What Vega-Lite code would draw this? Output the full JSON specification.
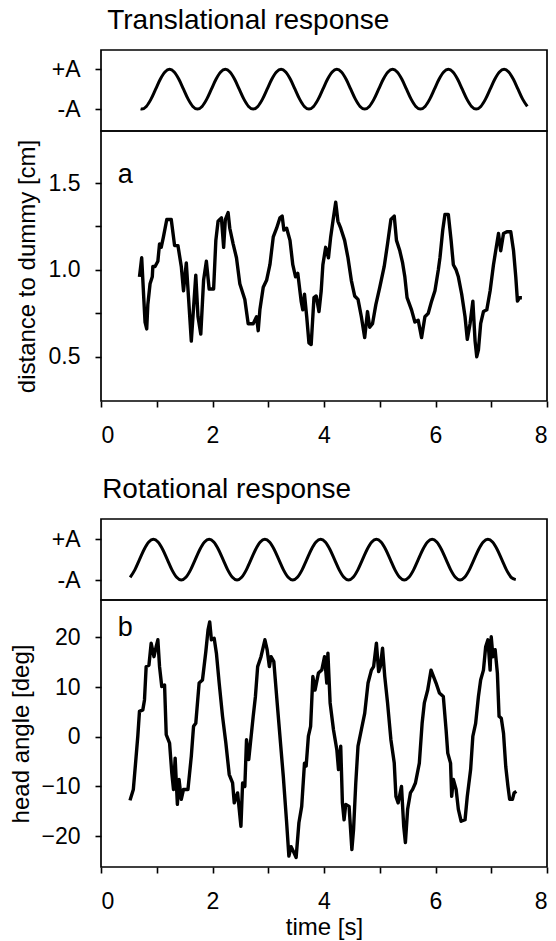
{
  "$schema": "https://vega.github.io/schema/vega-lite/v6.json",
  "background": "white",
  "padding": {"left": 9, "top": 7, "right": 5, "bottom": 0},
  "config": {
    "font": "Liberation Sans",
    "view": {"stroke": "black", "strokeWidth": 1.7},
    "axis": {"grid": false, "domain": false, "tickColor": "black", "tickWidth": 1.6, "tickSize": 6, "labelColor": "black", "labelFont": "Liberation Sans", "labelFontSize": 23, "titleFont": "Liberation Sans", "titleFontSize": 24, "titleFontWeight": "normal", "titleColor": "black"},
    "title": {"font": "Liberation Sans", "fontSize": 28, "fontWeight": "normal", "anchor": "start", "color": "black", "offset": 14}
  },
  "datasets": {
    "stimA": [
      {"t":0.71,"v":-0.99},
      {"t":0.73,"v":-1},{"t":0.813,"v":-0.866},{"t":0.897,"v":-0.5},{"t":0.98,"v":0},{"t":1.063,"v":0.5},{"t":1.147,"v":0.866},{"t":1.23,"v":1},{"t":1.313,"v":0.866},{"t":1.397,"v":0.5},{"t":1.48,"v":0},{"t":1.563,"v":-0.5},{"t":1.647,"v":-0.866},
      {"t":1.73,"v":-1},{"t":1.813,"v":-0.866},{"t":1.897,"v":-0.5},{"t":1.98,"v":0},{"t":2.063,"v":0.5},{"t":2.147,"v":0.866},{"t":2.23,"v":1},{"t":2.313,"v":0.866},{"t":2.397,"v":0.5},{"t":2.48,"v":0},{"t":2.563,"v":-0.5},{"t":2.647,"v":-0.866},
      {"t":2.73,"v":-1},{"t":2.813,"v":-0.866},{"t":2.897,"v":-0.5},{"t":2.98,"v":0},{"t":3.063,"v":0.5},{"t":3.147,"v":0.866},{"t":3.23,"v":1},{"t":3.313,"v":0.866},{"t":3.397,"v":0.5},{"t":3.48,"v":0},{"t":3.563,"v":-0.5},{"t":3.647,"v":-0.866},
      {"t":3.73,"v":-1},{"t":3.813,"v":-0.866},{"t":3.897,"v":-0.5},{"t":3.98,"v":0},{"t":4.063,"v":0.5},{"t":4.147,"v":0.866},{"t":4.23,"v":1},{"t":4.313,"v":0.866},{"t":4.397,"v":0.5},{"t":4.48,"v":0},{"t":4.563,"v":-0.5},{"t":4.647,"v":-0.866},
      {"t":4.73,"v":-1},{"t":4.813,"v":-0.866},{"t":4.897,"v":-0.5},{"t":4.98,"v":0},{"t":5.063,"v":0.5},{"t":5.147,"v":0.866},{"t":5.23,"v":1},{"t":5.313,"v":0.866},{"t":5.397,"v":0.5},{"t":5.48,"v":0},{"t":5.563,"v":-0.5},{"t":5.647,"v":-0.866},
      {"t":5.73,"v":-1},{"t":5.813,"v":-0.866},{"t":5.897,"v":-0.5},{"t":5.98,"v":0},{"t":6.063,"v":0.5},{"t":6.147,"v":0.866},{"t":6.23,"v":1},{"t":6.313,"v":0.866},{"t":6.397,"v":0.5},{"t":6.48,"v":0},{"t":6.563,"v":-0.5},{"t":6.647,"v":-0.866},
      {"t":6.73,"v":-1},{"t":6.813,"v":-0.866},{"t":6.897,"v":-0.5},{"t":6.98,"v":0},{"t":7.063,"v":0.5},{"t":7.147,"v":0.866},{"t":7.23,"v":1},{"t":7.313,"v":0.866},{"t":7.397,"v":0.5},{"t":7.48,"v":0},{"t":7.563,"v":-0.5},{"t":7.647,"v":-0.866}
    ],
    "stimB": [
      {"t":0.523,"v":-0.866},{"t":0.607,"v":-0.5},{"t":0.69,"v":0},{"t":0.773,"v":0.5},{"t":0.857,"v":0.866},{"t":0.94,"v":1},{"t":1.023,"v":0.866},{"t":1.107,"v":0.5},{"t":1.19,"v":0},{"t":1.273,"v":-0.5},{"t":1.357,"v":-0.866},
      {"t":1.44,"v":-1},{"t":1.523,"v":-0.866},{"t":1.607,"v":-0.5},{"t":1.69,"v":0},{"t":1.773,"v":0.5},{"t":1.857,"v":0.866},{"t":1.94,"v":1},{"t":2.023,"v":0.866},{"t":2.107,"v":0.5},{"t":2.19,"v":0},{"t":2.273,"v":-0.5},{"t":2.357,"v":-0.866},
      {"t":2.44,"v":-1},{"t":2.523,"v":-0.866},{"t":2.607,"v":-0.5},{"t":2.69,"v":0},{"t":2.773,"v":0.5},{"t":2.857,"v":0.866},{"t":2.94,"v":1},{"t":3.023,"v":0.866},{"t":3.107,"v":0.5},{"t":3.19,"v":0},{"t":3.273,"v":-0.5},{"t":3.357,"v":-0.866},
      {"t":3.44,"v":-1},{"t":3.523,"v":-0.866},{"t":3.607,"v":-0.5},{"t":3.69,"v":0},{"t":3.773,"v":0.5},{"t":3.857,"v":0.866},{"t":3.94,"v":1},{"t":4.023,"v":0.866},{"t":4.107,"v":0.5},{"t":4.19,"v":0},{"t":4.273,"v":-0.5},{"t":4.357,"v":-0.866},
      {"t":4.44,"v":-1},{"t":4.523,"v":-0.866},{"t":4.607,"v":-0.5},{"t":4.69,"v":0},{"t":4.773,"v":0.5},{"t":4.857,"v":0.866},{"t":4.94,"v":1},{"t":5.023,"v":0.866},{"t":5.107,"v":0.5},{"t":5.19,"v":0},{"t":5.273,"v":-0.5},{"t":5.357,"v":-0.866},
      {"t":5.44,"v":-1},{"t":5.523,"v":-0.866},{"t":5.607,"v":-0.5},{"t":5.69,"v":0},{"t":5.773,"v":0.5},{"t":5.857,"v":0.866},{"t":5.94,"v":1},{"t":6.023,"v":0.866},{"t":6.107,"v":0.5},{"t":6.19,"v":0},{"t":6.273,"v":-0.5},{"t":6.357,"v":-0.866},
      {"t":6.44,"v":-1},{"t":6.523,"v":-0.866},{"t":6.607,"v":-0.5},{"t":6.69,"v":0},{"t":6.773,"v":0.5},{"t":6.857,"v":0.866},{"t":6.94,"v":1},{"t":7.023,"v":0.866},{"t":7.107,"v":0.5},{"t":7.19,"v":0},{"t":7.273,"v":-0.5},{"t":7.357,"v":-0.866},{"t":7.44,"v":-0.98}
    ],
    "respA": [
      {"t":0.69,"v":0.96},{"t":0.73,"v":1.07},{"t":0.77,"v":0.82},{"t":0.79,"v":0.70},{"t":0.82,"v":0.66},{"t":0.84,"v":0.80},{"t":0.88,"v":0.92},{"t":0.92,"v":0.96},{"t":0.93,"v":1.02},{"t":0.97,"v":1.02},{"t":1.02,"v":1.05},{"t":1.05,"v":1.15},{"t":1.08,"v":1.13},{"t":1.12,"v":1.19},{"t":1.18,"v":1.29},{"t":1.26,"v":1.29},{"t":1.32,"v":1.14},{"t":1.38,"v":1.14},{"t":1.44,"v":1.02},{"t":1.48,"v":0.88},{"t":1.53,"v":1.04},{"t":1.57,"v":0.84},{"t":1.62,"v":0.59},{"t":1.70,"v":0.97},{"t":1.74,"v":0.73},{"t":1.79,"v":0.63},{"t":1.84,"v":0.94},{"t":1.89,"v":1.05},{"t":1.94,"v":0.89},{"t":2.02,"v":0.89},{"t":2.06,"v":1.17},{"t":2.10,"v":1.28},{"t":2.16,"v":1.30},{"t":2.20,"v":1.13},{"t":2.23,"v":1.29},{"t":2.28,"v":1.33},{"t":2.31,"v":1.24},{"t":2.37,"v":1.15},{"t":2.43,"v":1.07},{"t":2.49,"v":0.92},{"t":2.58,"v":0.83},{"t":2.64,"v":0.69},{"t":2.73,"v":0.69},{"t":2.79,"v":0.73},{"t":2.82,"v":0.65},{"t":2.85,"v":0.77},{"t":2.91,"v":0.90},{"t":2.97,"v":0.94},{"t":3.03,"v":1.03},{"t":3.09,"v":1.19},{"t":3.15,"v":1.24},{"t":3.21,"v":1.30},{"t":3.25,"v":1.31},{"t":3.28,"v":1.23},{"t":3.33,"v":1.24},{"t":3.39,"v":1.17},{"t":3.44,"v":1.03},{"t":3.49,"v":0.96},{"t":3.53,"v":0.98},{"t":3.59,"v":0.82},{"t":3.62,"v":0.77},{"t":3.65,"v":0.86},{"t":3.69,"v":0.73},{"t":3.73,"v":0.58},{"t":3.77,"v":0.57},{"t":3.82,"v":0.84},{"t":3.86,"v":0.85},{"t":3.91,"v":0.76},{"t":3.95,"v":0.88},{"t":3.98,"v":1.03},{"t":4.03,"v":1.13},{"t":4.08,"v":1.07},{"t":4.12,"v":1.19},{"t":4.16,"v":1.28},{"t":4.21,"v":1.39},{"t":4.25,"v":1.28},{"t":4.30,"v":1.24},{"t":4.37,"v":1.17},{"t":4.43,"v":1.07},{"t":4.49,"v":0.94},{"t":4.55,"v":0.85},{"t":4.61,"v":0.83},{"t":4.67,"v":0.73},{"t":4.73,"v":0.61},{"t":4.78,"v":0.76},{"t":4.82,"v":0.67},{"t":4.87,"v":0.69},{"t":4.93,"v":0.80},{"t":5.00,"v":0.90},{"t":5.08,"v":1.02},{"t":5.14,"v":1.15},{"t":5.20,"v":1.29},{"t":5.26,"v":1.31},{"t":5.30,"v":1.17},{"t":5.36,"v":1.11},{"t":5.41,"v":1.04},{"t":5.45,"v":0.96},{"t":5.49,"v":0.84},{"t":5.57,"v":0.77},{"t":5.63,"v":0.70},{"t":5.69,"v":0.71},{"t":5.75,"v":0.61},{"t":5.81,"v":0.73},{"t":5.87,"v":0.75},{"t":5.93,"v":0.82},{"t":5.99,"v":0.88},{"t":6.05,"v":1.00},{"t":6.08,"v":1.07},{"t":6.13,"v":1.23},{"t":6.17,"v":1.32},{"t":6.23,"v":1.32},{"t":6.28,"v":1.17},{"t":6.32,"v":1.03},{"t":6.37,"v":1.00},{"t":6.41,"v":0.96},{"t":6.47,"v":0.86},{"t":6.53,"v":0.73},{"t":6.57,"v":0.60},{"t":6.62,"v":0.69},{"t":6.67,"v":0.82},{"t":6.71,"v":0.59},{"t":6.74,"v":0.50},{"t":6.77,"v":0.54},{"t":6.81,"v":0.69},{"t":6.86,"v":0.76},{"t":6.92,"v":0.77},{"t":6.98,"v":0.88},{"t":7.04,"v":1.03},{"t":7.09,"v":1.13},{"t":7.13,"v":1.21},{"t":7.17,"v":1.11},{"t":7.22,"v":1.21},{"t":7.28,"v":1.22},{"t":7.35,"v":1.22},{"t":7.40,"v":1.11},{"t":7.44,"v":0.96},{"t":7.47,"v":0.82},{"t":7.51,"v":0.84},{"t":7.55,"v":0.84}
    ],
    "respB": [
      {"t":0.52,"v":-12.8},{"t":0.58,"v":-10.6},{"t":0.62,"v":-5.3},{"t":0.66,"v":0.1},{"t":0.69,"v":5.1},{"t":0.75,"v":5.4},{"t":0.78,"v":7.4},{"t":0.81,"v":14.1},{"t":0.86,"v":14.4},{"t":0.90,"v":18.8},{"t":0.95,"v":16.1},{"t":0.99,"v":18.1},{"t":1.02,"v":19.5},{"t":1.05,"v":14.1},{"t":1.09,"v":10.1},{"t":1.14,"v":10.4},{"t":1.17,"v":0.4},{"t":1.23,"v":-1.3},{"t":1.27,"v":-7.3},{"t":1.30,"v":-10.6},{"t":1.33,"v":-4.3},{"t":1.37,"v":-13.6},{"t":1.40,"v":-8.6},{"t":1.44,"v":-12.6},{"t":1.48,"v":-10.6},{"t":1.56,"v":-10.6},{"t":1.62,"v":-3.9},{"t":1.66,"v":2.1},{"t":1.70,"v":2.7},{"t":1.76,"v":10.8},{"t":1.82,"v":11.4},{"t":1.88,"v":17.1},{"t":1.92,"v":21.5},{"t":1.95,"v":23.1},{"t":1.98,"v":19.5},{"t":2.03,"v":19.8},{"t":2.07,"v":16.8},{"t":2.12,"v":10.8},{"t":2.18,"v":4.1},{"t":2.24,"v":-1.3},{"t":2.30,"v":-7.6},{"t":2.36,"v":-9.3},{"t":2.39,"v":-13.3},{"t":2.45,"v":-11.3},{"t":2.51,"v":-18.0},{"t":2.54,"v":-9.3},{"t":2.58,"v":-10.0},{"t":2.61,"v":-0.6},{"t":2.65,"v":-4.6},{"t":2.73,"v":4.1},{"t":2.77,"v":8.1},{"t":2.81,"v":14.1},{"t":2.87,"v":16.1},{"t":2.94,"v":19.5},{"t":2.98,"v":17.5},{"t":3.02,"v":14.1},{"t":3.05,"v":16.1},{"t":3.10,"v":15.1},{"t":3.16,"v":6.8},{"t":3.22,"v":-1.3},{"t":3.27,"v":-8.0},{"t":3.33,"v":-17.3},{"t":3.37,"v":-24.0},{"t":3.41,"v":-22.1},{"t":3.46,"v":-23.3},{"t":3.50,"v":-24.3},{"t":3.55,"v":-17.3},{"t":3.60,"v":-14.0},{"t":3.65,"v":-5.3},{"t":3.68,"v":-5.9},{"t":3.72,"v":0.1},{"t":3.76,"v":2.1},{"t":3.80,"v":12.1},{"t":3.84,"v":9.4},{"t":3.90,"v":12.8},{"t":3.96,"v":13.4},{"t":4.01,"v":16.1},{"t":4.05,"v":10.8},{"t":4.07,"v":16.8},{"t":4.11,"v":6.8},{"t":4.17,"v":1.4},{"t":4.23,"v":-2.6},{"t":4.26,"v":-6.6},{"t":4.30,"v":-1.9},{"t":4.33,"v":-13.3},{"t":4.36,"v":-16.7},{"t":4.39,"v":-13.6},{"t":4.45,"v":-14.0},{"t":4.50,"v":-22.7},{"t":4.53,"v":-18.7},{"t":4.57,"v":-9.3},{"t":4.61,"v":-1.9},{"t":4.67,"v":1.4},{"t":4.73,"v":4.7},{"t":4.79,"v":10.8},{"t":4.85,"v":13.4},{"t":4.89,"v":14.1},{"t":4.94,"v":18.8},{"t":4.98,"v":13.1},{"t":5.01,"v":14.1},{"t":5.05,"v":17.8},{"t":5.09,"v":12.1},{"t":5.14,"v":6.8},{"t":5.20,"v":-0.6},{"t":5.26,"v":-5.3},{"t":5.29,"v":-12.0},{"t":5.33,"v":-13.3},{"t":5.39,"v":-10.0},{"t":5.43,"v":-18.0},{"t":5.46,"v":-21.3},{"t":5.50,"v":-14.6},{"t":5.55,"v":-11.3},{"t":5.59,"v":-10.6},{"t":5.64,"v":-9.3},{"t":5.71,"v":-5.3},{"t":5.76,"v":2.7},{"t":5.80,"v":6.8},{"t":5.86,"v":9.4},{"t":5.92,"v":13.4},{"t":6.01,"v":10.8},{"t":6.07,"v":8.8},{"t":6.14,"v":8.1},{"t":6.19,"v":1.4},{"t":6.22,"v":-3.3},{"t":6.27,"v":-5.3},{"t":6.29,"v":-12.0},{"t":6.32,"v":-8.6},{"t":6.37,"v":-10.6},{"t":6.41,"v":-14.6},{"t":6.46,"v":-17.0},{"t":6.53,"v":-16.7},{"t":6.57,"v":-12.0},{"t":6.63,"v":-6.6},{"t":6.67,"v":0.1},{"t":6.72,"v":2.7},{"t":6.77,"v":8.1},{"t":6.81,"v":11.4},{"t":6.86,"v":13.4},{"t":6.90,"v":18.1},{"t":6.94,"v":19.5},{"t":6.98,"v":13.4},{"t":7.00,"v":20.1},{"t":7.03,"v":16.1},{"t":7.07,"v":17.5},{"t":7.11,"v":12.8},{"t":7.14,"v":4.1},{"t":7.18,"v":3.7},{"t":7.22,"v":0.7},{"t":7.26,"v":-6.0},{"t":7.30,"v":-10.0},{"t":7.33,"v":-12.6},{"t":7.38,"v":-12.6},{"t":7.41,"v":-11.3},{"t":7.45,"v":-11.0}
    ]
  },
  "spacing": 28,
  "vconcat": [
    {
      "title": {"text": "Translational response", "dx": 93},
      "spacing": 0,
      "bounds": "flush",
      "vconcat": [
        {
          "width": 446, "height": 81,
          "data": {"name": "stimA"},
          "mark": {"type": "line", "interpolate": "monotone", "color": "black", "strokeWidth": 3},
          "encoding": {
            "x": {"field": "t", "type": "quantitative", "scale": {"domain": [0, 8], "nice": false}, "axis": null},
            "y": {"field": "v", "type": "quantitative", "scale": {"domain": [-2.1, 1.97], "nice": false, "zero": false}, "axis": {"values": [-1, 1], "labelExpr": "datum.value > 0 ? '+A' : '-A'", "title": null, "labelPadding": 15}}
          }
        },
        {
          "width": 446, "height": 270,
          "layer": [
            {
              "data": {"name": "respA"},
              "mark": {"type": "line", "color": "black", "strokeWidth": 3.4, "strokeJoin": "round"},
              "encoding": {
                "x": {"field": "t", "type": "quantitative", "scale": {"domain": [0, 8], "nice": false}, "axis": {"values": [0, 1, 2, 3, 4, 5, 6, 7, 8], "labelExpr": "datum.value % 2 === 0 ? format(datum.value, 'd') : ''", "title": null, "labelPadding": 17}},
                "y": {"field": "v", "type": "quantitative", "scale": {"domain": [0.245, 1.8], "nice": false, "zero": false}, "axis": {"values": [0.5, 0.75, 1, 1.25, 1.5], "labelExpr": "(datum.value * 2) % 1 === 0 ? format(datum.value, '.1f') : ''", "title": "distance to dummy [cm]", "labelPadding": 15, "titlePadding": 9}}
              }
            },
            {
              "data": {"values": [{"label": "a"}]},
              "mark": {"type": "text", "align": "left", "baseline": "alphabetic", "fontSize": 27, "color": "black"},
              "encoding": {"x": {"datum": 0.3}, "y": {"datum": 1.5}, "text": {"field": "label"}}
            }
          ]
        }
      ]
    },
    {
      "title": {"text": "Rotational response", "dx": 93},
      "spacing": 0,
      "bounds": "flush",
      "vconcat": [
        {
          "width": 446, "height": 81,
          "data": {"name": "stimB"},
          "mark": {"type": "line", "interpolate": "monotone", "color": "black", "strokeWidth": 3},
          "encoding": {
            "x": {"field": "t", "type": "quantitative", "scale": {"domain": [0, 8], "nice": false}, "axis": null},
            "y": {"field": "v", "type": "quantitative", "scale": {"domain": [-1.98, 2.0], "nice": false, "zero": false}, "axis": {"values": [-1, 1], "labelExpr": "datum.value > 0 ? '+A' : '-A'", "title": null, "labelPadding": 15}}
          }
        },
        {
          "width": 446, "height": 267,
          "layer": [
            {
              "data": {"name": "respB"},
              "mark": {"type": "line", "color": "black", "strokeWidth": 3.4, "strokeJoin": "round"},
              "encoding": {
                "x": {"field": "t", "type": "quantitative", "scale": {"domain": [0, 8], "nice": false}, "axis": {"values": [0, 1, 2, 3, 4, 5, 6, 7, 8], "labelExpr": "datum.value % 2 === 0 ? format(datum.value, 'd') : ''", "title": "time [s]", "labelPadding": 17, "titlePadding": 2}},
                "y": {"field": "v", "type": "quantitative", "scale": {"domain": [-26.2, 27.5], "nice": false, "zero": false}, "axis": {"values": [-20, -10, 0, 10, 20], "title": "head angle [deg]", "labelPadding": 15, "titlePadding": 7}}
              }
            },
            {
              "data": {"values": [{"label": "b"}]},
              "mark": {"type": "text", "align": "left", "baseline": "alphabetic", "fontSize": 27, "color": "black"},
              "encoding": {"x": {"datum": 0.3}, "y": {"datum": 20.3}, "text": {"field": "label"}}
            }
          ]
        }
      ]
    }
  ]
}
